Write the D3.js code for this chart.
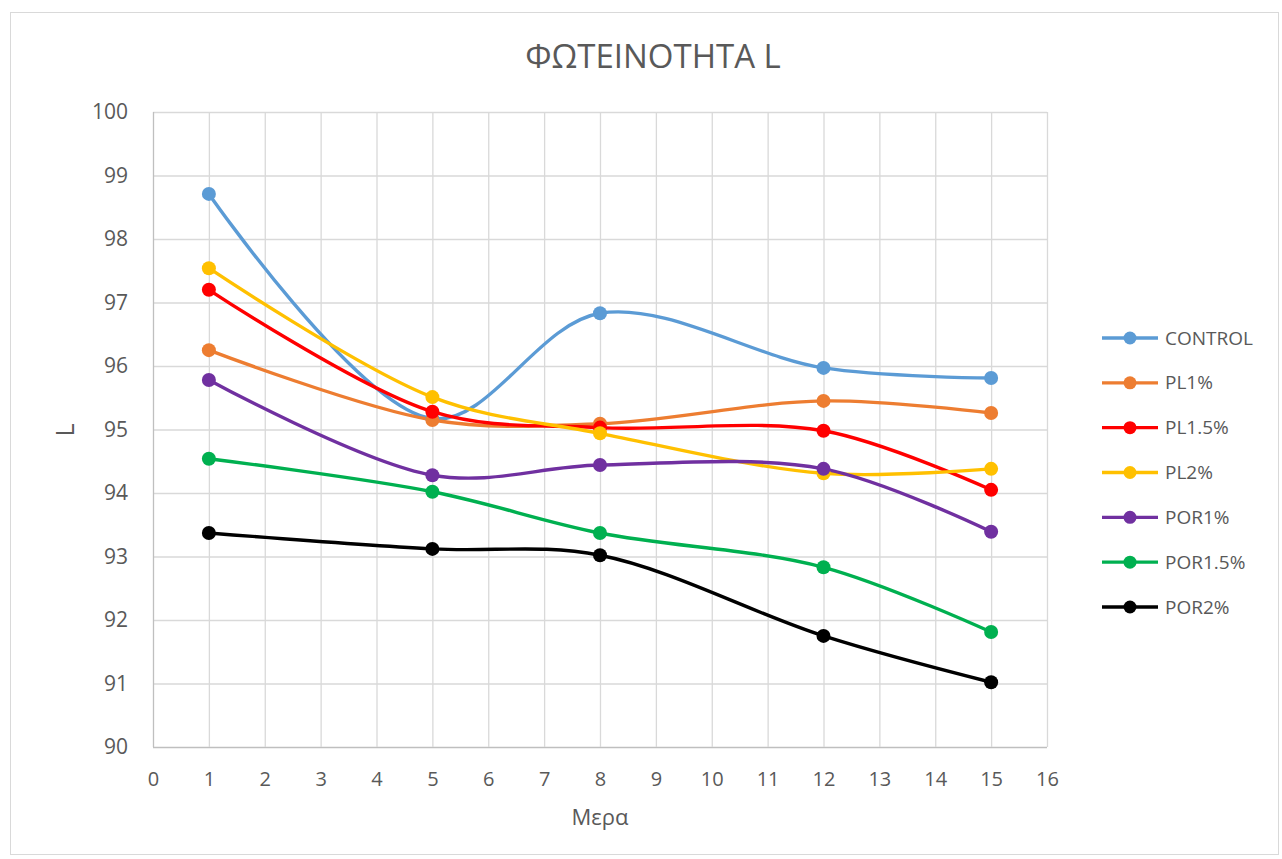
<!DOCTYPE html>
<html><head><meta charset="utf-8">
<script src="https://cdn.jsdelivr.net/npm/d3@7"></script>
<style>body{margin:0;background:#fff;} text{font-family:"Open Sans","Noto Sans",sans-serif;fill:#595959;}</style>
</head><body>
<svg id="c" width="1282" height="859"></svg>
<script>
const days = [1, 5, 8, 12, 15];
const seriesNames = ["CONTROL", "PL1%", "PL1.5%", "PL2%", "POR1%", "POR1.5%", "POR2%"];
const controlL = [98.71, 95.17, 96.83, 95.97, 95.81];
const pl1L     = [96.25, 95.15, 95.09, 95.45, 95.26];
const pl15L    = [97.20, 95.28, 95.03, 94.98, 94.05];
const pl2L     = [97.54, 95.51, 94.94, 94.31, 94.38];
const por1L    = [95.78, 94.28, 94.44, 94.38, 93.39];
const por15L   = [94.54, 94.02, 93.37, 92.83, 91.81];
const por2L    = [93.37, 93.12, 93.02, 91.75, 91.02];
const colors = ["#5B9BD5", "#ED7D31", "#FF0000", "#FFC000", "#7030A0", "#00B050", "#000000"];
const xTicks = d3.range(0, 17);
const yTicks = d3.range(90, 101);
const title = "ΦΩΤΕΙΝΟΤΗΤΑ L";
const xTitle = "Μερα";
const yTitle = "L";

const allValues = [controlL, pl1L, pl15L, pl2L, por1L, por15L, por2L];
const series = seriesNames.map((n, i) => ({name: n, color: colors[i], pts: days.map((d, j) => [d, allValues[i][j]])}));

const svg = d3.select("#c");
svg.append("rect").attr("x", 10.5).attr("y", 12.5).attr("width", 1268).attr("height", 842)
  .attr("fill", "#fff").attr("stroke", "#d9d9d9");

const x = d3.scaleLinear().domain([0, 16]).range([153, 1047]);
const y = d3.scaleLinear().domain([90, 100]).range([747, 112]);

// grid
svg.append("g").selectAll("line").data(yTicks).join("line")
  .attr("x1", x(0)).attr("x2", x(16)).attr("y1", d => y(d) + 0.5).attr("y2", d => y(d) + 0.5)
  .attr("stroke", d => d === 90 ? "#bfbfbf" : "#d9d9d9").attr("stroke-width", 1.3);
svg.append("g").selectAll("line").data(xTicks).join("line")
  .attr("y1", y(90)).attr("y2", y(100)).attr("x1", d => x(d) + 0.5).attr("x2", d => x(d) + 0.5)
  .attr("stroke", d => d === 0 ? "#bfbfbf" : "#d9d9d9").attr("stroke-width", 1.3);

// axes via d3
const xAxis = svg.append("g").attr("transform", `translate(0,${y(90)})`)
  .call(d3.axisBottom(x).tickValues(xTicks).tickSize(0).tickPadding(20).tickFormat(d3.format("d")));
xAxis.select(".domain").remove();
xAxis.selectAll("text").attr("font-size", 20).attr("y", 32).attr("dy", "0.35em")
  .style("fill", "#595959").style("font-family", "Open Sans");
const yAxis = svg.append("g").attr("transform", `translate(${x(0)},0)`)
  .call(d3.axisLeft(y).tickValues(yTicks).tickSize(0).tickPadding(25).tickFormat(d3.format("d")));
yAxis.select(".domain").remove();
yAxis.selectAll("text").attr("font-size", 21).style("fill", "#595959").style("font-family", "Open Sans");

// titles
svg.append("text").attr("x", 653).attr("y", 68).attr("text-anchor", "middle")
  .attr("font-size", 33).text(title);
svg.append("text").attr("x", 600).attr("y", 825).attr("text-anchor", "middle")
  .attr("font-size", 22).text(xTitle);
svg.append("text").attr("transform", "translate(74,430) rotate(-90)").attr("text-anchor", "middle")
  .attr("font-size", 25).text(yTitle);

// lines
const line = d3.line().x(d => x(d[0])).y(d => y(d[1])).curve(d3.curveCatmullRom.alpha(0.5));
const g = svg.append("g");
series.forEach(s => {
  g.append("path").datum(s.pts).attr("d", line).attr("fill", "none")
    .attr("stroke", s.color).attr("stroke-width", 3.4);
});
series.forEach(s => {
  g.append("g").selectAll("circle").data(s.pts).join("circle")
    .attr("cx", d => x(d[0])).attr("cy", d => y(d[1])).attr("r", 7).attr("fill", s.color);
});

// legend
const legendY = d3.scalePoint().domain(seriesNames).range([338, 607]);
const lg = svg.append("g");
series.forEach(s => {
  const yy = legendY(s.name);
  lg.append("line").attr("x1", 1102).attr("x2", 1158).attr("y1", yy).attr("y2", yy)
    .attr("stroke", s.color).attr("stroke-width", 3.4);
  lg.append("circle").attr("cx", 1130).attr("cy", yy).attr("r", 6.5).attr("fill", s.color);
  lg.append("text").attr("x", 1165).attr("y", yy).attr("dy", "0.35em").attr("font-size", 19).text(s.name);
});
</script>
</body></html>
